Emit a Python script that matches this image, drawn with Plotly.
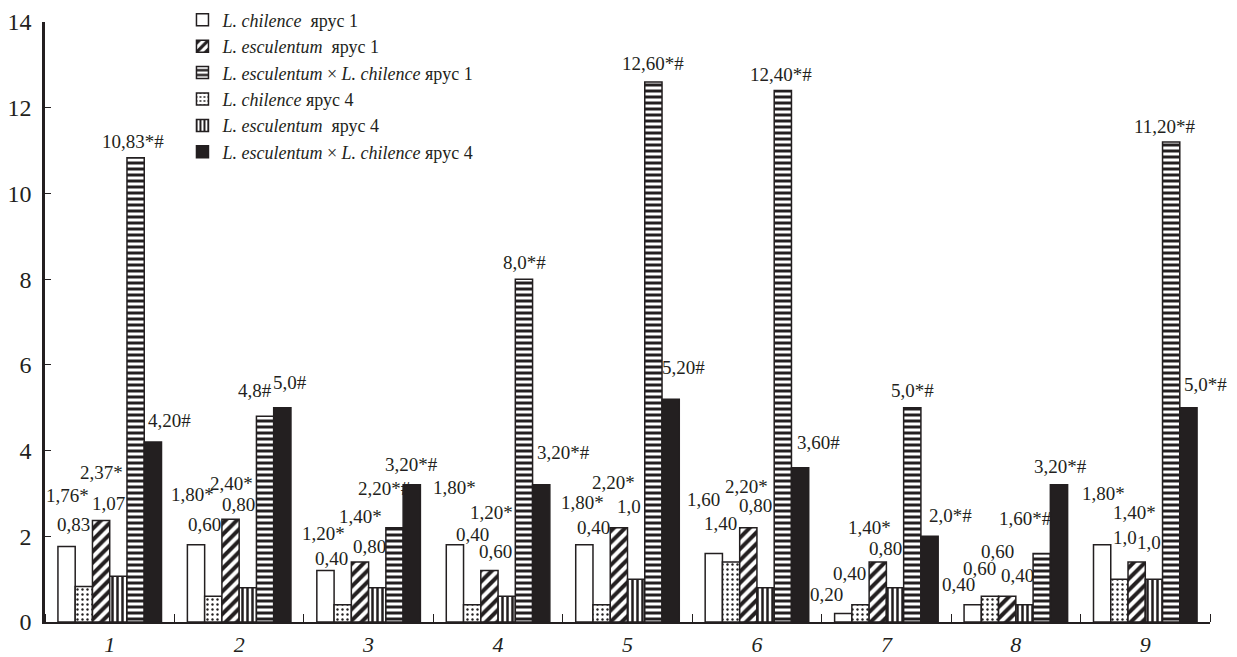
import plotly.graph_objects as go

# ---------------- data ----------------
groups = [1, 2, 3, 4, 5, 6, 7, 8, 9]
group_labels = ["1", "2", "3", "4", "5", "6", "7", "8", "9"]

chil1 = [1.76, 1.80, 1.20, 1.80, 1.80, 1.60, 0.20, 0.40, 1.80]
chil4 = [0.83, 0.60, 0.40, 0.40, 0.40, 1.40, 0.40, 0.60, 1.00]
esc1 = [2.37, 2.40, 1.40, 1.20, 2.20, 2.20, 1.40, 0.60, 1.40]
esc4 = [1.07, 0.80, 0.80, 0.60, 1.00, 0.80, 0.80, 0.40, 1.00]
hyb1 = [10.83, 4.80, 2.20, 8.00, 12.60, 12.40, 5.00, 1.60, 11.20]
hyb4 = [4.20, 5.00, 3.20, 3.20, 5.20, 3.60, 2.00, 3.20, 5.00]

chil1_txt = ["1,76*", "1,80*", "1,20*", "1,80*", "1,80*", "1,60", "0,20", "0,40", "1,80*"]
chil4_txt = ["0,83", "0,60", "0,40", "0,40", "0,40", "1,40", "0,40", "0,60", "1,0"]
esc1_txt = ["2,37*", "2,40*", "1,40*", "1,20*", "2,20*", "2,20*", "1,40*", "0,60", "1,40*"]
esc4_txt = ["1,07", "0,80", "0,80", "0,60", "1,0", "0,80", "0,80", "0,40", "1,0"]
hyb1_txt = ["10,83*#", "4,8#", "2,20*#", "8,0*#", "12,60*#", "12,40*#", "5,0*#", "1,60*#", "11,20*#"]
hyb4_txt = ["4,20#", "5,0#", "3,20*#", "3,20*#", "5,20#", "3,60#", "2,0*#", "3,20*#", "5,0*#"]

name_chil1 = "<i>L. chilence</i>&nbsp;&nbsp;ярус 1"
name_esc1 = "<i>L. esculentum</i>&nbsp;&nbsp;ярус 1"
name_hyb1 = "<i>L. esculentum</i> × <i>L. chilence</i> ярус 1"
name_chil4 = "<i>L. chilence</i> ярус 4"
name_esc4 = "<i>L. esculentum</i>&nbsp;&nbsp;ярус 4"
name_hyb4 = "<i>L. esculentum</i> × <i>L. chilence</i> ярус 4"

# ---------------- label placement offsets (pixels: dx right, dy up) ----------------
off_chil1 = [(1, 51), (-4, 50), (-2, 37), (0, 57), (-2, 42), (-10, 54), (-17, 19), (-14, 20), (1, 51)]
off_chil4 = [(-10, 62), (-9, 72), (-11, 46), (0, 70), (-8, 77), (-11, 39), (-11, 31), (-10, 28), (6, 42)]
off_esc1 = [(0, 48), (1, 36), (1, 46), (2, 58), (-5, 45), (-2, 41), (-8, 35), (-10, 45), (-2, 50)]
off_esc4 = [(-10, 73), (-9, 83), (-8, 41), (-11, 45), (-7, 73), (-10, 82), (-10, 39), (-7, 29), (-5, 37)]
off_hyb1 = [(-3, 16), (-10, 26), (-10, 39), (1, 17), (0, 19), (-2, 16), (0, 17), (-16, 35), (-6, 16)]
off_hyb4 = [(17, 22), (8, 25), (0, 20), (22, 32), (13, 32), (18, 25), (21, 21), (2, 18), (17, 23)]

INK = "#231f20"
FONT = "Liberation Serif, Times New Roman, serif"
BARGAP = 0.2

series = [
    # values, texts, name, legendrank, pattern, fill, offsets
    (chil1, chil1_txt, name_chil1, 1, None, "white", off_chil1),
    (chil4, chil4_txt, name_chil4, 4, dict(shape=".", size=5, solidity=0.18), "white", off_chil4),
    (esc1, esc1_txt, name_esc1, 2, dict(shape="/", size=8, solidity=0.5), "white", off_esc1),
    (esc4, esc4_txt, name_esc4, 5, dict(shape="|", size=5, solidity=0.5), "white", off_esc4),
    (hyb1, hyb1_txt, name_hyb1, 3, dict(shape="-", size=6, solidity=0.5), "white", off_hyb1),
    (hyb4, hyb4_txt, name_hyb4, 6, None, INK, off_hyb4),
]

fig = go.Figure()
n = len(series)
bw = (1 - BARGAP) / n
annotations = []
for j, (vals, txts, name, rank, pat, fill, offs) in enumerate(series):
    marker = dict(color=fill, line=dict(color=INK, width=1.5))
    if pat is not None:
        marker["pattern"] = dict(fgcolor=INK, bgcolor="white", fillmode="replace", **pat)
    fig.add_trace(go.Bar(x=groups, y=vals, name=name, legendrank=rank, marker=marker))
    for g, v, t, (dx, dy) in zip(groups, vals, txts, offs):
        annotations.append(dict(
            x=g + (j - (n - 1) / 2) * bw, y=v, xref="x", yref="y",
            text=t, showarrow=False, xanchor="center", yanchor="middle",
            xshift=dx, yshift=dy,
            font=dict(family=FONT, size=19, color=INK),
        ))

# page body has an 8px default margin, so the figure is sized to fit inside the window
fig.update_layout(
    width=1229, height=649,
    margin=dict(l=37, r=27, t=14, b=35, autoexpand=False),
    barmode="group", bargap=BARGAP, bargroupgap=0,
    plot_bgcolor="white", paper_bgcolor="white",
    font=dict(family=FONT, color=INK),
    annotations=annotations,
    legend=dict(
        x=0.118, y=1.034, xanchor="left", yanchor="top",
        bgcolor="rgba(0,0,0,0)", font=dict(family=FONT, size=18, color=INK),
        traceorder="normal",
    ),
    xaxis=dict(
        range=[0.5, 9.5], tickmode="array", tickvals=groups, ticktext=group_labels,
        ticks="", showgrid=False, zeroline=False, automargin=False,
        showline=True, linecolor=INK, linewidth=1.5,
        tickfont=dict(family=FONT, size=22, color=INK, style="italic"),
        ticklabelstandoff=2,
        minor=dict(tick0=0.5, dtick=1, ticks="inside", ticklen=8, tickcolor=INK, tickwidth=1, showgrid=False),
    ),
    yaxis=dict(
        range=[0, 14], tickmode="array", tickvals=[0, 2, 4, 6, 8, 10, 12, 14],
        ticks="inside", ticklen=6, tickcolor=INK, tickwidth=1,
        showgrid=False, zeroline=False, automargin=False,
        showline=True, linecolor=INK, linewidth=2.5,
        tickfont=dict(family=FONT, size=24, color=INK),
        ticklabelstandoff=6,
    ),
)

fig.write_html("out.html")
